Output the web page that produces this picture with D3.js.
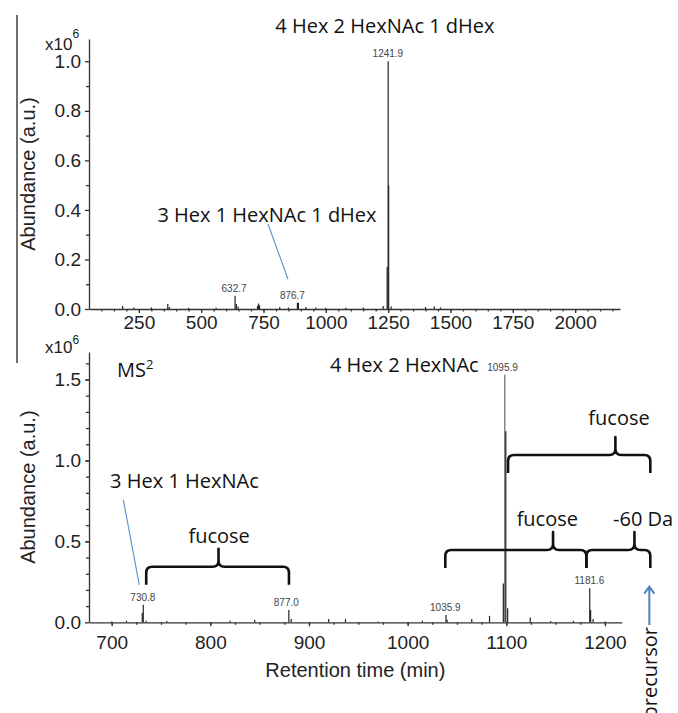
<!DOCTYPE html>
<html>
<head>
<meta charset="utf-8">
<script src="https://cdn.jsdelivr.net/npm/d3@7/dist/d3.min.js"></script>
<style>
  body { margin: 0; background: #fff; }
  svg text { font-family: "Liberation Sans", Arial, sans-serif; }
  .axis path, .axis line { stroke: #333; stroke-width: 1.3; }
  .axis text { font-size: 19px; fill: #222; }
  .note { font-family: "Open Sans", Lato, sans-serif; font-size: 20px; fill: #111; }
  .peaklab { font-size: 10px; fill: #444; }
</style>
</head>
<body>
<svg id="chart" width="678" height="713"></svg>
<script>
// top spectrum (MS1): peak positions and abundances (x10^6)
let ms1Mz = [185, 230, 300, 366, 372, 450, 560, 636, 641, 648, 726, 730, 734, 815, 850,
  886, 890, 920, 960, 1000, 1080, 1150, 1230, 1246, 1250, 1252, 1262, 1400, 1435, 1460];
let ms1Ab = [0.012, 0.006, 0.006, 0.02, 0.008, 0.005, 0.005, 0.052, 0.02, 0.01, 0.012, 0.022, 0.015, 0.008, 0.006,
  0.025, 0.025, 0.008, 0.006, 0.005, 0.005, 0.006, 0.012, 0.17, 1.0, 0.5, 0.01, 0.008, 0.01, 0.006];
let ms1XTicks = [250, 500, 750, 1000, 1250, 1500, 1750, 2000];
let ms1YTicks = [0.0, 0.2, 0.4, 0.6, 0.8, 1.0];
let ms1Labels = ["632.7", "876.7", "1241.9"];
let ms1LabelMz = [632, 866, 1249];
let ms1LabelAb = [0.052, 0.025, 1.0];

// bottom spectrum (MS2)
let ms2Mz = [700, 715, 731, 732, 735, 756, 820, 845, 879.6, 882, 920, 937, 970, 1015, 1038.9, 1040,
  1065, 1083, 1097, 1098.5, 1099.5, 1101.4, 1124.3, 1145, 1168, 1184.6, 1185.5, 1188, 1200];
let ms2Ab = [0.005, 0.01, 0.058, 0.108, 0.01, 0.008, 0.01, 0.015, 0.076, 0.02, 0.02, 0.02, 0.005, 0.01, 0.045, 0.015,
  0.02, 0.04, 0.24, 1.53, 1.18, 0.087, 0.03, 0.008, 0.01, 0.21, 0.076, 0.02, 0.005];
let ms2XTicks = [700, 800, 900, 1000, 1100, 1200];
let ms2YTicks = [0.0, 0.5, 1.0, 1.5];
let ms2Labels = ["730.8", "877.0", "1035.9", "1095.9", "1181.6"];
let ms2LabelMz = [731.6, 877, 1038.2, 1096.2, 1184.3];
let ms2LabelAb = [0.108, 0.076, 0.045, 1.53, 0.21];

// annotations of the bottom spectrum: braces [from, to, tip, level]
let braces = [
  [735, 879.7, 808.3, 0.3435],
  [1101.8, 1246, 1210.6, 1.0336],
  [1038.2, 1181.2, 1147.4, 0.4467],
  [1181.2, 1246, 1229.9, 0.4467]
];

let svg = d3.select("#chart");

// static line at the left border of the figure
svg.append("line")
  .attr("x1", 17).attr("x2", 17)
  .attr("y1", 15).attr("y2", 363)
  .attr("stroke", "#222")
  .attr("stroke-width", 1.3);

function drawPanel(p) {
  let x = d3.scaleLinear().domain(p.xDomain).range([p.left, p.right]);
  let y = d3.scaleLinear().domain(p.yDomain).range([p.bottom, p.top]);

  // minor ticks first
  svg.append("g")
    .attr("class", "axis")
    .attr("transform", "translate(0," + p.bottom + ")")
    .call(d3.axisBottom(x).tickValues(p.xMinor).tickSize(2.5).tickFormat(""))
    .select(".domain").remove();
  svg.append("g")
    .attr("class", "axis")
    .attr("transform", "translate(" + p.left + ",0)")
    .call(d3.axisLeft(y).tickValues(p.yMinor).tickSize(3).tickFormat(""))
    .select(".domain").remove();

  svg.append("g")
    .attr("class", "axis")
    .attr("transform", "translate(0," + p.bottom + ")")
    .call(d3.axisBottom(x).tickValues(p.xTicks).tickSize(4).tickSizeOuter(0).tickPadding(p.xPad).tickFormat(d3.format("d")));
  svg.append("g")
    .attr("class", "axis")
    .attr("transform", "translate(" + p.left + ",0)")
    .call(d3.axisLeft(y).tickValues(p.yTicks).tickSize(4).tickSizeOuter(0).tickPadding(4).tickFormat(d3.format(".1f")));

  // peaks as sticks
  svg.append("g")
    .selectAll("line")
    .data(p.mz)
    .enter()
    .append("line")
    .attr("x1", function(d) { return x(d); })
    .attr("x2", function(d) { return x(d); })
    .attr("y1", y(0))
    .attr("y2", function(d, i) { return y(p.ab[i]); })
    .attr("stroke", function(d, i) { return p.ab[i] > 1.2 ? "#666" : "#222"; })
    .attr("stroke-width", 1.2);

  svg.append("g")
    .selectAll("text")
    .data(p.labels)
    .enter()
    .append("text")
    .attr("class", "peaklab")
    .attr("x", function(d, i) { return x(p.labelMz[i]); })
    .attr("y", function(d, i) { return y(p.labelAb[i]) - 4; })
    .attr("text-anchor", "middle")
    .text(function(d) { return d; });

  // x10^6 factor
  let fac = svg.append("text")
    .attr("x", 45)
    .attr("y", p.facY)
    .style("font-size", "17px")
    .style("fill", "#222");
  fac.append("tspan").text("x10");
  fac.append("tspan").attr("dy", p.facDy).style("font-size", "12px").text("6");

  svg.append("text")
    .attr("transform", "translate(" + 35 + "," + (p.top + p.bottom) / 2 + ") rotate(-90)")
    .attr("text-anchor", "middle")
    .style("font-size", "20px")
    .style("fill", "#222")
    .text("Abundance (a.u.)");

  return { x: x, y: y };
}

let top1 = drawPanel({
  xDomain: [50, 2180], yDomain: [0, 1.09],
  left: 89, right: 620, top: 39, bottom: 309,
  xTicks: ms1XTicks, yTicks: ms1YTicks,
  xMinor: d3.range(100, 2180, 50), yMinor: d3.range(0.1, 1.09, 0.2),
  xPad: 3, facY: 50, facDy: -12,
  mz: ms1Mz, ab: ms1Ab,
  labels: ms1Labels, labelMz: ms1LabelMz, labelAb: ms1LabelAb
});

let bot = drawPanel({
  xDomain: [677, 1217], yDomain: [0, 1.67],
  left: 89, right: 621.7, top: 352, bottom: 622.3,
  xTicks: ms2XTicks, yTicks: ms2YTicks,
  xMinor: d3.range(700, 1217, 25), yMinor: d3.range(0.1, 1.67, 0.1),
  xPad: 9, facY: 353, facDy: -9,
  mz: ms2Mz, ab: ms2Ab,
  labels: ms2Labels, labelMz: ms2LabelMz, labelAb: ms2LabelAb
});

// top panel texts
svg.append("text").attr("class", "note")
  .attr("x", top1.x(1237)).attr("y", top1.y(1.113))
  .attr("text-anchor", "middle")
  .text("4 Hex 2 HexNAc 1 dHex");
svg.append("text").attr("class", "note")
  .attr("x", top1.x(764)).attr("y", top1.y(0.352))
  .attr("text-anchor", "middle")
  .text("3 Hex 1 HexNAc 1 dHex");
svg.append("line")
  .attr("x1", top1.x(768)).attr("y1", top1.y(0.343))
  .attr("x2", top1.x(848)).attr("y2", top1.y(0.121))
  .attr("stroke", "#5b8fd0").attr("stroke-width", 1.1);

// bottom panel texts
let ms = svg.append("text").attr("class", "note")
  .attr("x", bot.x(705.4)).attr("y", bot.y(1.517));
ms.append("tspan").text("MS");
ms.append("tspan").attr("dy", -8).style("font-size", "13px").text("2");

svg.append("text").attr("class", "note")
  .attr("x", bot.x(921.3)).attr("y", bot.y(1.548))
  .text("4 Hex 2 HexNAc");
svg.append("text").attr("class", "note")
  .attr("x", bot.x(698.4)).attr("y", bot.y(0.828))
  .text("3 Hex 1 HexNAc");
svg.append("line")
  .attr("x1", bot.x(711.8)).attr("y1", bot.y(0.757))
  .attr("x2", bot.x(728)).attr("y2", bot.y(0.231))
  .attr("stroke", "#5b8fd0").attr("stroke-width", 1.1);

svg.append("text").attr("class", "note")
  .attr("x", bot.x(808.9)).attr("y", bot.y(0.488))
  .attr("text-anchor", "middle").text("fucose");
svg.append("text").attr("class", "note")
  .attr("x", bot.x(1214.3)).attr("y", bot.y(1.219))
  .attr("text-anchor", "middle").text("fucose");
svg.append("text").attr("class", "note")
  .attr("x", bot.x(1141.6)).attr("y", bot.y(0.595))
  .attr("text-anchor", "middle").text("fucose");
svg.append("text").attr("class", "note")
  .attr("x", bot.x(1208.2)).attr("y", bot.y(0.595))
  .text("-60 Da");

// curly braces
function bracePath(b) {
  let x1 = bot.x(b[0]), x2 = bot.x(b[1]), xt = bot.x(b[2]), yb = bot.y(b[3]);
  let d = 18, r = 6;
  return "M" + x1 + "," + (yb + d) +
    "L" + x1 + "," + (yb + r) +
    "Q" + x1 + "," + yb + " " + (x1 + r) + "," + yb +
    "L" + (xt - r) + "," + yb +
    "Q" + xt + "," + yb + " " + xt + "," + (yb - r) +
    "L" + xt + "," + (yb - d) +
    "L" + xt + "," + (yb - r) +
    "Q" + xt + "," + yb + " " + (xt + r) + "," + yb +
    "L" + (x2 - r) + "," + yb +
    "Q" + x2 + "," + yb + " " + x2 + "," + (yb + r) +
    "L" + x2 + "," + (yb + d);
}
svg.append("g")
  .selectAll("path")
  .data(braces)
  .enter()
  .append("path")
  .attr("d", bracePath)
  .attr("fill", "none")
  .attr("stroke", "#111")
  .attr("stroke-width", 2.6)
  .attr("stroke-linejoin", "round");

// precursor arrow
let ax = bot.x(1245), ay1 = bot.y(-0.017), ay2 = bot.y(0.22);
svg.append("path")
  .attr("d", "M" + ax + "," + ay1 + "L" + ax + "," + ay2 +
    "M" + (ax - 5) + "," + (ay2 + 7) + "L" + ax + "," + ay2 + "L" + (ax + 5) + "," + (ay2 + 7))
  .attr("fill", "none")
  .attr("stroke", "#4f81bd")
  .attr("stroke-width", 2);
svg.append("text").attr("class", "note")
  .attr("transform", "translate(" + bot.x(1252.8) + "," + bot.y(-0.029) + ") rotate(-90)")
  .attr("text-anchor", "end")
  .text("precursor");

svg.append("text")
  .attr("x", bot.x(947)).attr("y", 677)
  .attr("text-anchor", "middle")
  .style("font-size", "20px")
  .style("fill", "#222")
  .text("Retention time (min)");
</script>
</body>
</html>
